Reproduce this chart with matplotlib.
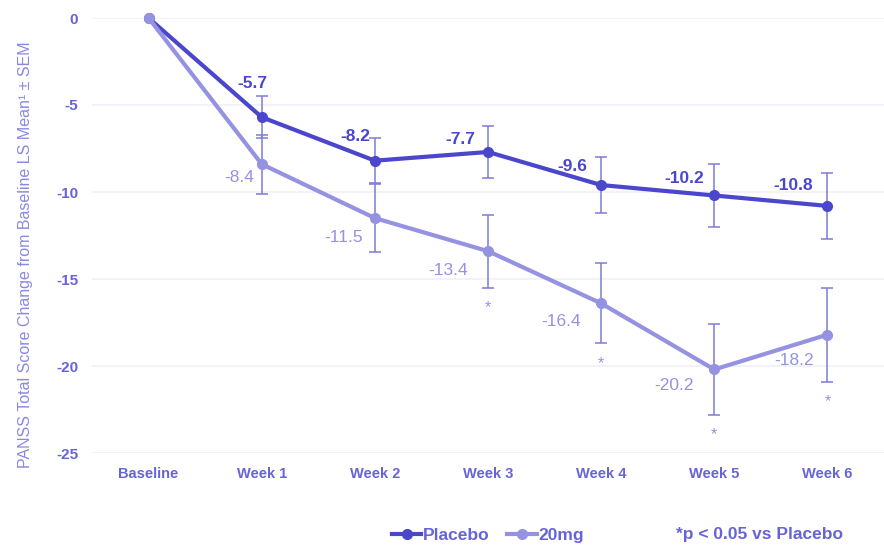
import matplotlib
matplotlib.use("Agg")
import matplotlib.pyplot as plt
from matplotlib.lines import Line2D

plt.rcParams['font.family'] = ['Liberation Sans', 'DejaVu Sans']

categories = ["Baseline", "Week 1", "Week 2", "Week 3", "Week 4", "Week 5", "Week 6"]
placebo = [0, -5.7, -8.2, -7.7, -9.6, -10.2, -10.8]
placebo_sem = [0, 1.2, 1.3, 1.5, 1.6, 1.8, 1.9]
dose20 = [0, -8.4, -11.5, -13.4, -16.4, -20.2, -18.2]
dose20_sem = [0, 1.7, 1.95, 2.1, 2.3, 2.6, 2.7]
significant = [False, False, False, True, True, True, True]
yticks = [0, -5, -10, -15, -20, -25]

# label offsets in pixels (dx, dy) relative to points
placebo_off = [None, (-9, 34), (-19, 24), (-28, 12), (-29, 19), (-30, 17), (-34, 20)]
dose_off = [None, (-23, -13), (-31, -19), (-40, -19), (-40, -18), (-40, -16), (-33, -26)]

c_pl = "#4b47cc"
c_20 = "#9592e2"
c_err = "#7d7ad9"
c_tick = "#6664d6"
c_ylab = "#8a88e0"
c_grid = "#f0f0f8"

fig = plt.figure(figsize=(8.84, 5.56), dpi=100)
ax = fig.add_axes([92/884, (556-453)/556, 1 - 92/884, (453-18)/556])
x = list(range(len(categories)))

ax.set_xlim(-0.5, len(categories) - 0.5)
ax.set_ylim(-25, 0)
ax.set_yticks(yticks)
ax.set_yticklabels([str(v) for v in yticks])
ax.set_xticks(x)
ax.set_xticklabels(categories)
for s in ax.spines.values():
    s.set_visible(False)
ax.tick_params(length=0, labelsize=10.5, labelcolor=c_tick, pad=10)
ax.tick_params(axis='y', pad=10, labelsize=11)
for lab in ax.get_xticklabels() + ax.get_yticklabels():
    lab.set_fontweight('bold')
ax.grid(axis='y', color=c_grid, linewidth=1.2)
ax.set_axisbelow(True)

# error bars (skip baseline)
ax.errorbar(x[1:], placebo[1:], yerr=placebo_sem[1:], fmt='none', ecolor=c_err,
            elinewidth=1.1, capsize=4, capthick=1.1, zorder=2, clip_on=False)
ax.errorbar(x[1:], dose20[1:], yerr=dose20_sem[1:], fmt='none', ecolor=c_err,
            elinewidth=1.1, capsize=4, capthick=1.1, zorder=2, clip_on=False)

ax.plot(x, placebo, color=c_pl, lw=3, marker='o', ms=7, zorder=3, clip_on=False)
ax.plot(x, dose20, color=c_20, lw=3, marker='o', ms=7, zorder=4, clip_on=False)

for i in x:
    if placebo_off[i] is not None:
        ax.annotate(f"{placebo[i]:.1f}", (i, placebo[i]), xytext=placebo_off[i],
                    textcoords='offset pixels', ha='center', va='center',
                    fontsize=12.5, fontweight='bold', color=c_pl, zorder=5)
    if dose_off[i] is not None:
        ax.annotate(f"{dose20[i]:.1f}", (i, dose20[i]), xytext=dose_off[i],
                    textcoords='offset pixels', ha='center', va='center',
                    fontsize=12.5, color=c_20, zorder=5)
    if significant[i]:
        ax.annotate("*", (i, dose20[i] - dose20_sem[i]), xytext=(0, -20),
                    textcoords='offset pixels', ha='center', va='center',
                    fontsize=11.5, color=c_20)

fig.text(26/884, 1 - 255/556, "PANSS Total Score Change from Baseline LS Mean\u00b9 \u00b1 SEM",
         rotation=90, ha='center', va='center', fontsize=11.5, color=c_ylab)

handles = [Line2D([0], [0], color=c_pl, lw=3, marker='o', ms=7),
           Line2D([0], [0], color=c_20, lw=3, marker='o', ms=7)]
leg = fig.legend(handles, ["Placebo", "20mg"], loc='center', bbox_to_anchor=(488/884, 1 - 535/556),
                 ncol=2, frameon=False, handlelength=1.7, handletextpad=0.1, columnspacing=1.0,
                 prop={'size': 12.5, 'weight': 'bold'})
for t in leg.get_texts():
    t.set_color(c_tick)
fig.text(760/884, 1 - 535/556, "*p < 0.05 vs Placebo", ha='center', va='center',
         fontsize=12.5, fontweight='bold', color=c_tick)

fig.savefig("out.png", dpi=100)
